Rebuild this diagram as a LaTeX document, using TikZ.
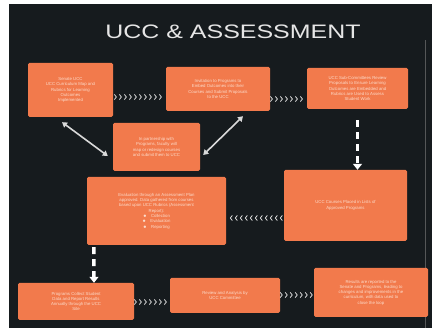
\documentclass[tikz,border=0pt]{standalone}
\usepackage{fontspec}
\setmainfont{Liberation Sans}
\usetikzlibrary{arrows.meta,calc,decorations.markings}

\definecolor{slidebg}{HTML}{161B1E}
\definecolor{boxorange}{HTML}{F27A4C}
\definecolor{boxtext}{HTML}{FCDCCB}
\definecolor{linkgray}{HTML}{D9D9D9}
\definecolor{titlegray}{HTML}{E6E6E6}

\tikzset{
  stepbox/.style={fill=boxorange, rounded corners=1.5pt, text=boxtext,
    font=\fontsize{4.3}{5.3}\selectfont, align=center, inner sep=2pt},
  slidetitle/.style={text=titlegray, font=\fontsize{19.5}{22}\selectfont, xscale=1.28},
  chev/.style={postaction={decorate}, decoration={markings,
    mark=between positions 0.06 and 1 step 5pt with
    {\draw[linkgray,line width=0.8pt] (-2pt,2.6pt) -- (0,0) -- (-2pt,-2.6pt);}}},
  link/.style={{Triangle[length=5pt,width=6pt]}-{Triangle[length=5pt,width=6pt]},
    draw=linkgray, line width=1.6pt},
  drop/.style={-{Triangle[length=6pt,width=9pt]}, draw=white, line width=3.5pt,
    dash pattern=on 7pt off 5pt}
}

\begin{document}
\begin{tikzpicture}[x=1pt,y=-1pt]

    \useasboundingbox (0,0) rectangle (432,328);

    %draw slide
    \fill[white] (0,0) rectangle (432,328);
    \fill[slidebg] (9,4) rectangle (432,328);
    \draw[gray!60!slidebg,line width=0.8pt] (425,40) -- (425,328);

    %draw title
    \node[slidetitle] (head) at (233,32) {UCC \& ASSESSMENT};

    %draw boxes
    \node[stepbox, minimum width=85, minimum height=54] (senate) at (70.5,90)
      {Senate UCC\\UCC Curriculum Map and\\Rubrics for Learning\\Outcomes\\Implemented};
    \node[stepbox, minimum width=104, minimum height=44] (invite) at (218,89)
      {Invitation to Programs to\\Embed Outcomes into their\\Courses and Submit Proposals\\to the UCC};
    \node[stepbox, minimum width=101, minimum height=41] (review) at (357.5,88.5)
      {UCC Sub-Committees Review\\Proposals to Ensure Learning\\Outcomes are Embedded and\\Rubrics are Used to Assess\\Student Work};
    \node[stepbox, minimum width=87, minimum height=48] (partner) at (156.5,147)
      {In partnership with\\Programs, faculty will\\map or redesign courses\\and submit them to UCC};
    \node[stepbox, minimum width=139, minimum height=68] (plan) at (156.5,211)
      {Evaluation through an Assessment Plan\\approved. Data gathered from courses\\based upon UCC Rubrics (Assessment\\Report):\\
       $\bullet$\quad Collection\\$\bullet$\quad Evaluation\\$\bullet$\quad Reporting};
    \node[stepbox, minimum width=123, minimum height=71] (lists) at (345.5,205.5)
      {UCC Courses Placed in Lists of\\Approved Programs};
    \node[stepbox, minimum width=116, minimum height=37] (collect) at (76,301.5)
      {Programs Collect Student\\Data and Report Results\\Annually through the UCC\\Site};
    \node[stepbox, minimum width=110, minimum height=35] (analyse) at (225,295.5)
      {Review and Analysis by\\UCC Committee};
    \node[stepbox, minimum width=114, minimum height=49] (results) at (371,292.5)
      {Results are reported to the\\Senate and Programs, leading to\\changes and improvements in the\\curriculum, with data used to\\close the loop};

    %draw chevron links
    \path[chev] (senate.east |- 0,97) -- (invite.west |- 0,97);
    \path[chev] (invite.east |- 0,99) -- (review.west |- 0,99);
    \path[chev] (lists.west |- 0,218) -- (plan.east |- 0,218);
    \path[chev] (collect.east |- 0,302) -- (analyse.west |- 0,302);
    \path[chev] (analyse.east |- 0,295) -- (results.west |- 0,295);

    %draw two way arrows
    \draw[link] ($(senate.south)+(-8.5,5)$) -- ($(partner.west)+(-5,9)$);
    \draw[link] ($(partner.east)+(3,8)$) -- ($(invite.south)+(25,5)$);

    %draw dashed arrows
    \draw[drop] ($(review.south)+(0,11)$) -- (review.south |- lists.north);
    \draw[drop] ($(plan.south west)+(7,2)$) -- ($(collect.north)+(18,0)$);

\end{tikzpicture}
\end{document}
